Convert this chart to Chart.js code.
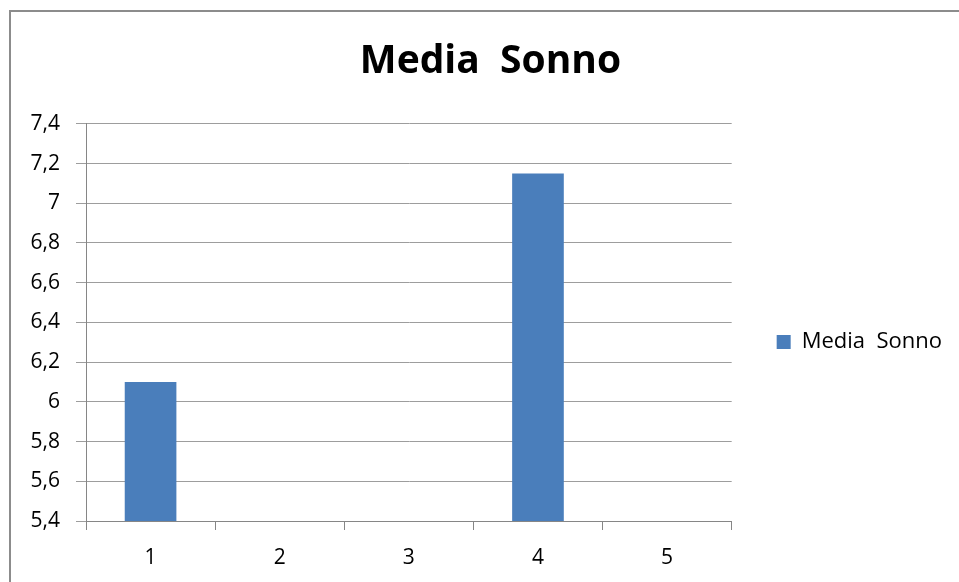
<!DOCTYPE html>
<html>
<head>
<meta charset="utf-8">
<script src="https://cdn.jsdelivr.net/npm/chart.js@4/dist/chart.umd.min.js"></script>
<style>
    body { margin: 0; background: #fff; overflow: hidden; }
    #wrap { position: relative; width: 959px; height: 582px; }
    #frame { position: absolute; left: 9px; top: 10px; width: 1000px; height: 700px; border: 2px solid #8c8c8c; box-sizing: border-box; }
    #myChart { position: absolute; left: 0; top: 0; }
</style>
</head>
<body>
<div id="wrap">
    <div id="frame"></div>
    <canvas id="myChart" width="959" height="582"></canvas>
</div>
<script>
// dati del grafico
const categories = ['1', '2', '3', '4', '5'];
const mediaSonno = [6.1, null, null, 7.15, null];
const seriesName = 'Media  Sonno';
const yMin = 5.4, yMax = 7.4, yStep = 0.2;

document.addEventListener('DOMContentLoaded', function () {
    const ctx = document.getElementById('myChart').getContext('2d');
    const font = 'Open Sans';

    // legenda e titolo spostati come in Excel
    const shiftBoxes = {
        id: 'shiftBoxes',
        afterLayout(chart) {
            chart.legend.left += 35;
            chart.legend.right += 35;
            chart.legend.top += 51;
            chart.legend.bottom += 51;
            chart.titleBlock.left += 32;
            chart.titleBlock.right += 32;
        }
    };

    new Chart(ctx, {
        type: 'bar',
        data: {
            labels: categories,
            datasets: [{
                label: seriesName,
                data: mediaSonno,
                backgroundColor: '#4A7EBB',
                borderWidth: 0,
                barPercentage: 0.4,
                categoryPercentage: 1
            }]
        },
        options: {
            responsive: false,
            animation: false,
            layout: { padding: { left: 0, right: 42, top: 0, bottom: 0 } },
            plugins: {
                title: {
                    display: true,
                    text: seriesName,
                    color: '#000',
                    font: { family: font, size: 39, weight: 'bold', lineHeight: 1.2 },
                    padding: { top: 38, bottom: 39 }
                },
                legend: {
                    position: 'right',
                    labels: {
                        color: '#000',
                        font: { family: font, size: 22 },
                        boxWidth: 14,
                        boxHeight: 14,
                        padding: 10
                    }
                },
                tooltip: { enabled: false }
            },
            scales: {
                x: {
                    grid: {
                        display: true,
                        drawOnChartArea: false,
                        tickLength: 9,
                        color: '#868686',
                        offset: true
                    },
                    border: { color: '#868686', width: 1 },
                    ticks: {
                        color: '#000',
                        font: { family: font, size: 21 },
                        padding: 15
                    },
                    afterFit(scale) { scale.height = 61; }
                },
                y: {
                    min: yMin,
                    max: yMax,
                    grid: {
                        color: '#9d9d9d',
                        tickLength: 10
                    },
                    border: { color: '#868686', width: 1 },
                    ticks: {
                        stepSize: yStep,
                        color: '#000',
                        font: { family: font, size: 21 },
                        padding: 16,
                        callback: function (value) {
                            return (Math.round(value * 10) / 10).toString().replace('.', ',');
                        }
                    },
                    afterFit(scale) { scale.width = 86; }
                }
            }
        },
        plugins: [shiftBoxes]
    });
});
</script>
</body>
</html>
